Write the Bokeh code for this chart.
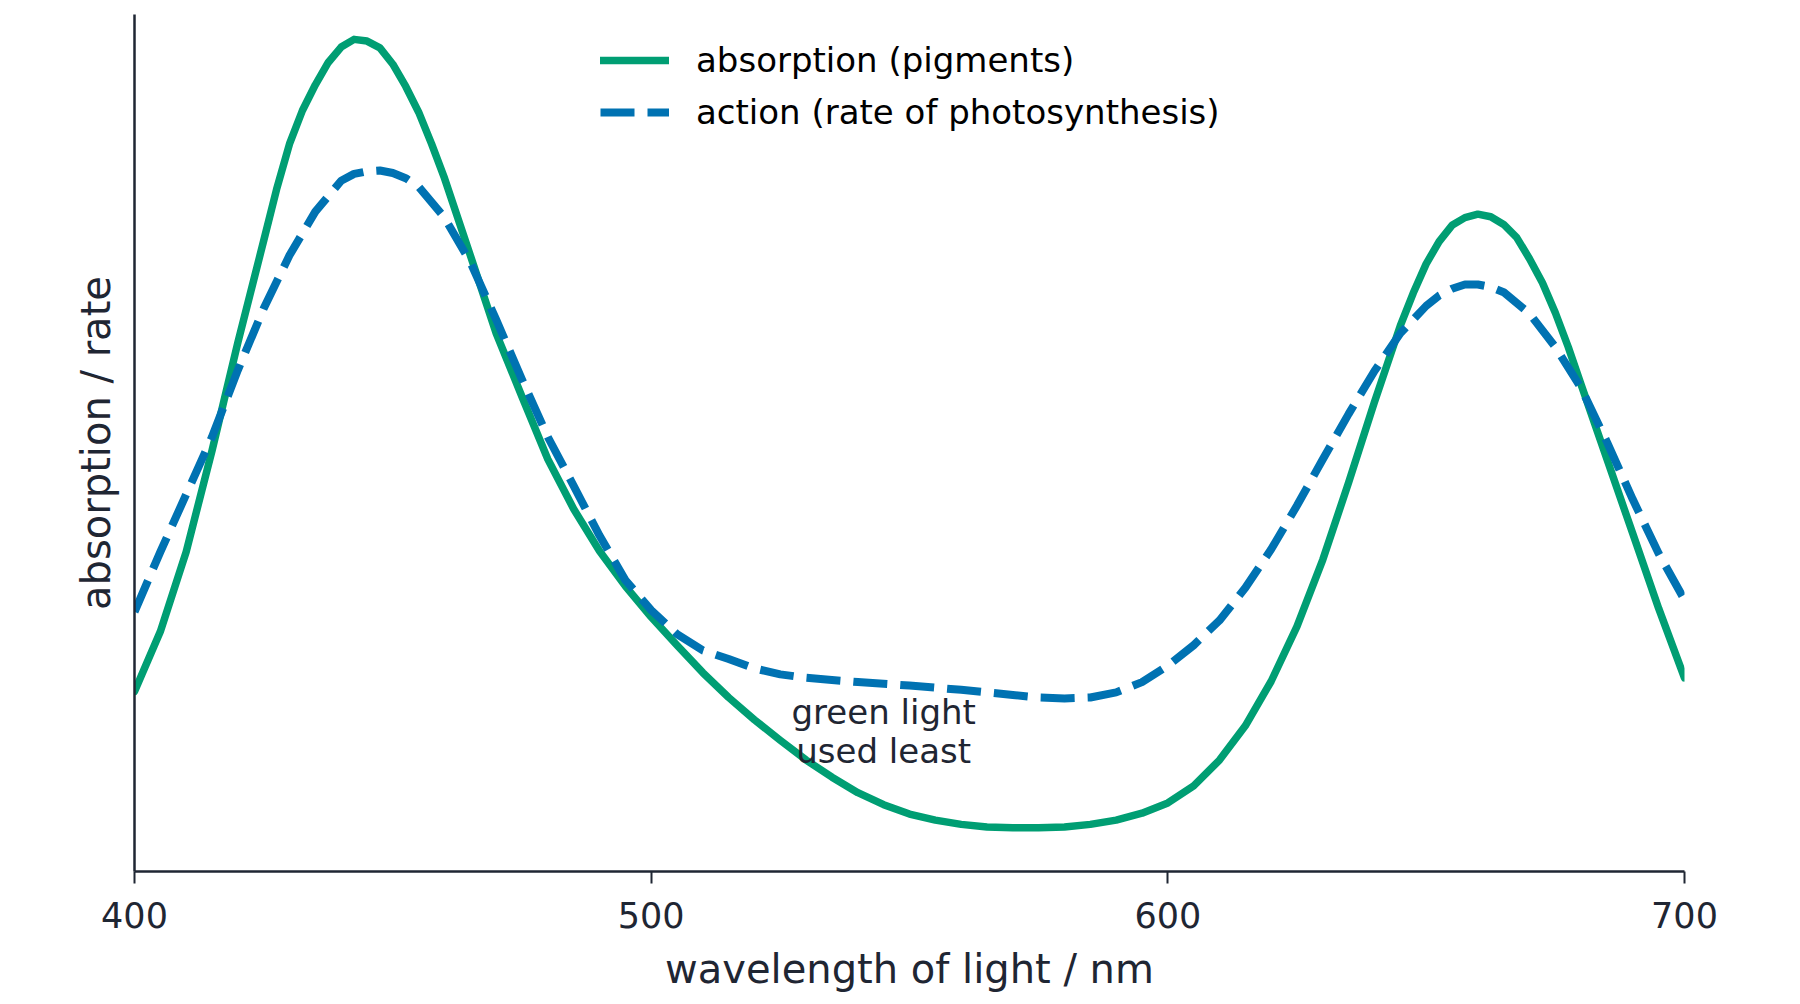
from bokeh.plotting import figure
from bokeh.models import Range1d, Legend, LegendItem, Label, FixedTicker
from bokeh.embed import file_html
from bokeh.resources import INLINE

# wavelength (nm) and relative values (arbitrary units, 0-100)
wl_abs = [400, 405, 410, 415, 420, 425, 427.5, 430, 432.5, 435, 437.5, 440, 442.5, 445,
          447.5, 450, 452.5, 455, 457.5, 460, 465, 470, 475, 480, 485, 490, 495, 500, 505,
          510, 515, 520, 525, 530, 535, 540, 545, 550, 555, 560, 565, 570, 575, 580, 585,
          590, 595, 600, 605, 610, 615, 620, 625, 630, 635, 640, 645, 647.5, 650, 652.5,
          655, 657.5, 660, 662.5, 665, 667.5, 670, 672.5, 675, 677.5, 680, 685, 690, 695,
          700]
absorption = [21.0, 28.0, 37.3, 49.1, 61.7, 73.6, 79.6, 84.9, 88.8, 91.8, 94.4, 96.2, 97.1,
              96.9, 96.1, 94.2, 91.6, 88.6, 84.9, 80.9, 71.9, 62.8, 55.4, 48.1, 42.3, 37.4,
              33.3, 29.7, 26.4, 23.2, 20.3, 17.7, 15.3, 13.0, 11.0, 9.2, 7.8, 6.7, 6.0, 5.5,
              5.2, 5.1, 5.1, 5.2, 5.5, 6.0, 6.8, 8.0, 10.0, 13.0, 17.0, 22.2, 28.6, 36.4,
              45.4, 54.8, 63.7, 67.5, 70.9, 73.5, 75.4, 76.3, 76.7, 76.4, 75.5, 74.0, 71.5,
              68.7, 65.2, 61.2, 56.8, 48.1, 39.4, 30.7, 22.6]

wl_act = [400, 405, 410, 415, 420, 425, 430, 435, 440, 442.5, 445, 447.5, 450, 452.5, 455,
          460, 465, 470, 475, 480, 485, 490, 495, 500, 505, 510, 515, 520, 525, 530, 540,
          550, 560, 570, 575, 580, 585, 590, 595, 600, 605, 610, 615, 620, 625, 630, 635,
          640, 645, 650, 652.5, 655, 657.5, 660, 662.5, 665, 670, 675, 680, 685, 690, 695,
          700]
action = [30.3, 37.3, 44.0, 50.7, 58.5, 65.7, 71.9, 77.0, 80.6, 81.4, 81.7, 81.8, 81.5,
          80.9, 79.9, 76.3, 71.1, 64.4, 57.4, 50.7, 45.0, 39.2, 34.0, 30.5, 27.7, 25.8,
          24.8, 23.7, 23.0, 22.6, 22.1, 21.7, 21.2, 20.6, 20.3, 20.2, 20.3, 20.9, 22.1,
          24.0, 26.4, 29.3, 33.1, 37.6, 42.7, 48.1, 53.4, 58.4, 62.8, 66.0, 67.2, 68.0,
          68.5, 68.5, 68.2, 67.6, 65.1, 61.2, 56.4, 50.1, 43.4, 37.1, 31.7]

x_ticks = [400, 500, 600, 700]
series_labels = ["absorption (pigments)", "action (rate of photosynthesis)"]
annotation = "green light\nused least"

GREEN = "#009E73"
BLUE = "#0072B2"
INK = "#1f2633"
FONT = "DejaVu Sans"

p = figure(width=1800, height=1004, output_backend="svg", toolbar_location=None,
           x_range=Range1d(400, 700), y_range=Range1d(0, 100),
           min_border_left=134, min_border_right=116, min_border_top=14, min_border_bottom=133)
p.outline_line_color = None
p.xgrid.visible = False
p.ygrid.visible = False
p.background_fill_color = "white"
p.border_fill_color = "white"

r_abs = p.line(wl_abs, absorption, line_color=GREEN, line_width=7.5,
               line_join="round", line_cap="round")
r_act = p.line(wl_act, action, line_color=BLUE, line_width=8,
               line_dash="34 13", line_join="round")

xa = p.xaxis[0]
xa.ticker = FixedTicker(ticks=x_ticks)
xa.axis_line_color = INK
xa.axis_line_width = 2.5
xa.major_tick_line_color = INK
xa.major_tick_line_width = 2
xa.major_tick_out = 12
xa.major_tick_in = 0
xa.minor_tick_line_color = None
xa.major_label_text_font = FONT
xa.major_label_text_font_size = "35px"
xa.major_label_text_color = INK
xa.major_label_standoff = 18
xa.axis_label = "wavelength of light / nm"
xa.axis_label_text_font = FONT
xa.axis_label_text_font_size = "40px"
xa.axis_label_text_font_style = "normal"
xa.axis_label_text_color = INK
xa.axis_label_standoff = 15

ya = p.yaxis[0]
ya.ticker = FixedTicker(ticks=[])
ya.axis_line_color = INK
ya.axis_line_width = 2.5
ya.major_tick_line_color = None
ya.minor_tick_line_color = None
ya.major_label_text_font_size = "0px"
ya.axis_label = "absorption / rate"
ya.axis_label_text_font = FONT
ya.axis_label_text_font_size = "40px"
ya.axis_label_text_font_style = "normal"
ya.axis_label_text_color = INK
ya.axis_label_standoff = 16

legend = Legend(items=[LegendItem(label=series_labels[0], renderers=[r_abs]),
                       LegendItem(label=series_labels[1], renderers=[r_act])],
                location=(466, 739), orientation="vertical",
                border_line_alpha=0, background_fill_alpha=0,
                padding=0, margin=0, spacing=12,
                glyph_width=69, glyph_height=40, label_height=40,
                label_standoff=27,
                label_text_font=FONT, label_text_font_size="34px",
                label_text_color="black", label_text_baseline="middle")
p.add_layout(legend)

p.add_layout(Label(x=545, y=16.3, text=annotation, text_align="center",
                   text_baseline="middle", text_font=FONT, text_font_size="34px",
                   text_color=INK, text_line_height=0.98))

open("out.html", "w").write(file_html(p, INLINE))
